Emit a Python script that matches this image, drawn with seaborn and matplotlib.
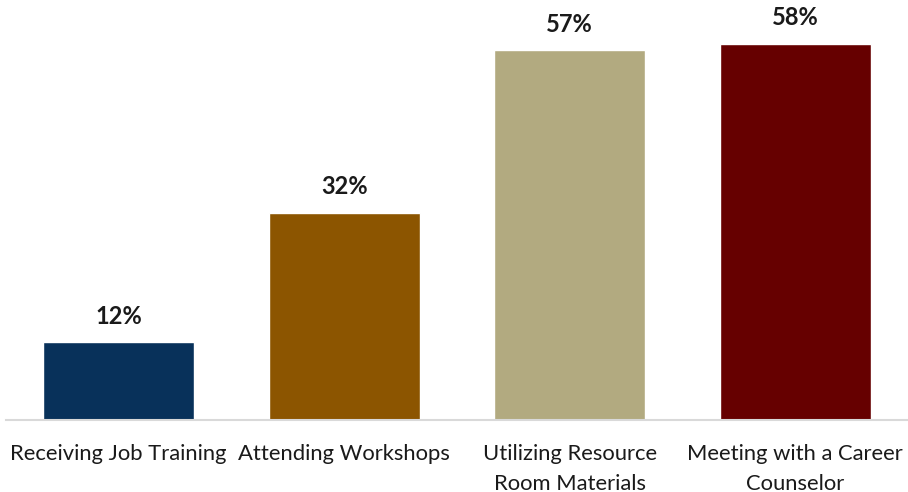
import matplotlib
matplotlib.use("Agg")
import matplotlib.pyplot as plt
import seaborn as sns
import pandas as pd

categories = ["Receiving Job Training", "Attending Workshops",
              "Utilizing Resource\nRoom Materials", "Meeting with a Career\nCounselor"]
values = [12, 32, 57, 58]
colors = ["#08315A", "#8C5500", "#B2AA80", "#660000"]

sns.set_theme(style="white")
plt.rcParams["font.family"] = ["Lato", "DejaVu Sans"]

df = pd.DataFrame({"category": categories, "value": values})

fig = plt.figure(figsize=(9.08, 4.92), dpi=100)
ax = fig.add_axes([6 / 908, 72 / 492, 902 / 908, 415 / 492])

sns.barplot(data=df, x="category", y="value", hue="category",
            palette=colors, width=0.67, saturation=1, legend=False, ax=ax)

ax.set_xlim(-0.5, 3.5)
ax.set_ylim(0, 64)
for s in ["top", "right", "left"]:
    ax.spines[s].set_visible(False)
ax.spines["bottom"].set_color("#D9D9D9")
ax.spines["bottom"].set_linewidth(1.5)
ax.set_yticks([])
ax.set_xlabel("")
ax.set_ylabel("")
ax.tick_params(axis="x", length=0, pad=17, labelsize=15.8, labelcolor="#1a1a1a")
for lbl in ax.get_xticklabels():
    lbl.set_linespacing(1.62)

for i, v in enumerate(values):
    ax.annotate(f"{v}%", (i, v), xytext=(0, 10.5), textcoords="offset points",
                ha="center", va="bottom", fontsize=17, fontweight="bold",
                color="#1a1a1a")

fig.savefig("out.png", dpi=100)
